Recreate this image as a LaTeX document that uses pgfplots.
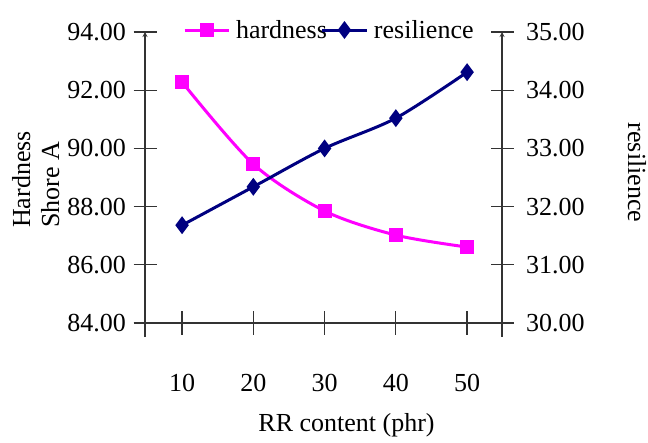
\documentclass[border=0pt]{standalone}
\usepackage{fontspec}
\setmainfont{Liberation Serif}
\usepackage{pgfplots}
\pgfplotsset{compat=1.18}
\definecolor{hardc}{RGB}{255,0,255}
\definecolor{resc}{RGB}{0,0,128}
\begin{document}
\begin{tikzpicture}
\useasboundingbox (0,0) rectangle (648bp,443bp);
\pgfplotsset{
  common/.style={
    at={(145bp,120bp)}, anchor=south west,
    scale only axis, width=357bp, height=291bp,
    xmin=4.8, xmax=54.9,
    font=\fontsize{26bp}{29bp}\selectfont,
    tick label style={font=\fontsize{26bp}{29bp}\selectfont},
    label style={font=\fontsize{26bp}{29bp}\selectfont},
    /pgf/number format/.cd, fixed, fixed zerofill, precision=2, assume math mode=true,
    /pgfplots/.cd,
    tick align=center,
    major tick length=23bp,
    axis line style={-, black!80, line width=1.2bp},
    every outer x axis line/.append style={-},
    every outer y axis line/.append style={-},
    every tick/.style={black!80, line width=1.2bp},
    y axis line style={-, shorten <=-14bp},
  },
}
\begin{axis}[common,
  axis y line=left, axis x line=bottom,
  x axis line style={-, shorten <=-11bp, shorten >=-10bp},
  ymin=84, ymax=94, ytick={84,86,...,94},
  xtick={10,20,30,40,50},
  xticklabels={10,20,30,40,50},
  xticklabel style={yshift=-36bp},
  yticklabel style={anchor=east, xshift=-4bp},
  xlabel={RR content (phr)},
  every axis x label/.style={at={(rel axis cs:0.5,0)}, anchor=center, xshift=23bp, yshift=-102bp},
  ylabel={Hardness\\Shore A},
  every axis y label/.style={at={([xshift=-133bp,yshift=95bp]rel axis cs:0,0)}, rotate=90, anchor=north west, align=left, inner sep=0pt},
]
\addplot[hardc, line width=3bp, smooth, mark=square*, mark size=5.5bp, mark options={solid}]
  coordinates {(10,92.28) (20,89.46) (30,87.85) (40,87.02) (50,86.61)};
\end{axis}
\begin{axis}[common,
  axis y line=right, axis x line=none,
  ymin=30, ymax=35, ytick={30,31,...,35},
  yticklabel style={anchor=west, xshift=9bp},
  ylabel={resilience},
  every axis y label/.style={at={([xshift=135bp,yshift=5bp]rel axis cs:1,0.5)}, rotate=-90, anchor=center, inner sep=0pt},
  legend columns=2,
  legend style={at={([xshift=38bp,yshift=2bp]rel axis cs:0,1)}, anchor=west, draw=none, fill=none,
    inner sep=0pt, outer sep=0pt, font=\fontsize{26bp}{29bp}\selectfont,
    nodes={inner sep=0pt},
    /tikz/every odd column/.append style={column sep=6bp},
    /tikz/every even column/.append style={column sep=-6bp}},
  legend image code/.code={\draw[mark repeat=2, mark phase=2, #1] plot coordinates {(0bp,0bp) (22bp,0bp) (44bp,0bp)};},
]
\addlegendimage{hardc, line width=3bp, mark=square*, mark size=5.5bp}
\addlegendentry{hardness}
\addplot[resc, line width=3bp, smooth, mark=diamond*, mark size=6.5bp, mark options={solid}]
  coordinates {(10,31.68) (20,32.34) (30,33.00) (40,33.52) (50,34.31)};
\addlegendentry{resilience}
\end{axis}
\end{tikzpicture}
\end{document}
